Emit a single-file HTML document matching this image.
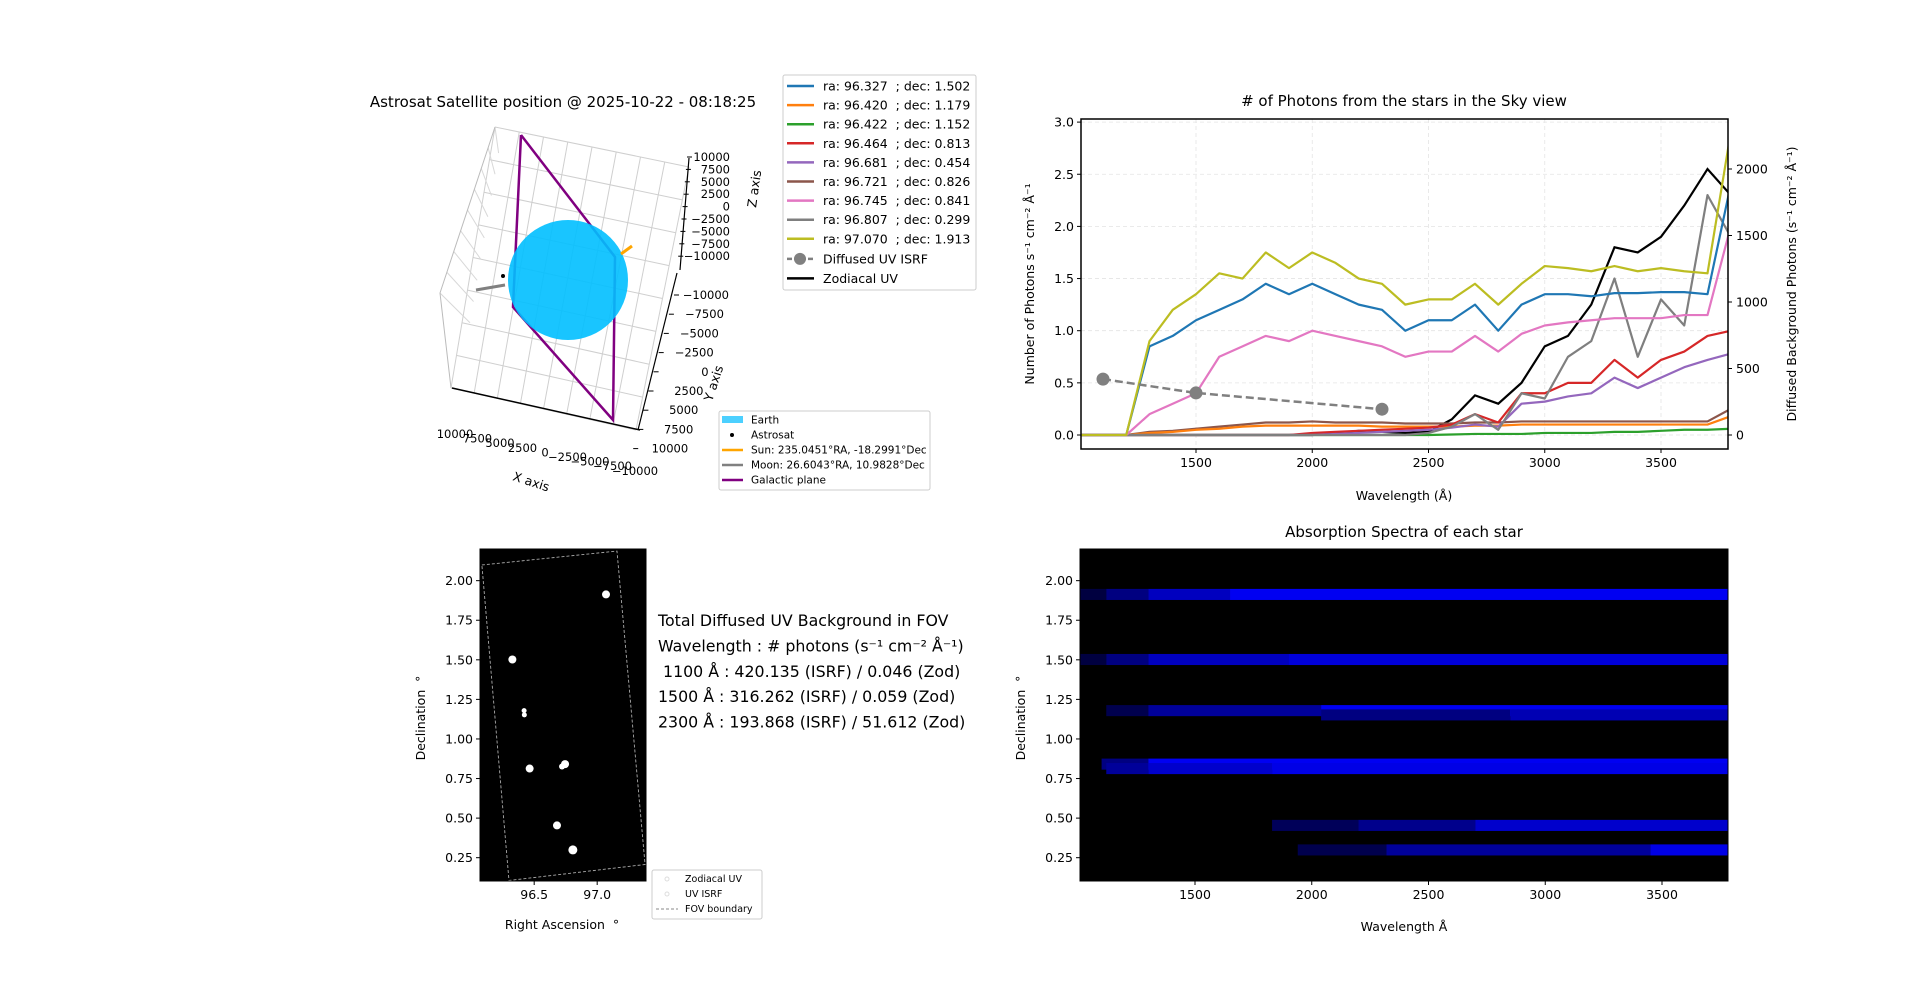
<!DOCTYPE html>
<html><head><meta charset="utf-8"><style>
html,body{margin:0;padding:0;background:#fff;}
body{width:1920px;height:990px;overflow:hidden;font-family:"Liberation Sans","DejaVu Sans",sans-serif;}
svg text{font-family:"DejaVu Sans","Liberation Sans",sans-serif;white-space:pre;}
</style></head><body>
<svg id="fig" width="1920" height="990" viewBox="0 0 1920 990" xmlns="http://www.w3.org/2000/svg">
<g id="g3d"></g>
<g id="gspec"></g>
<g id="gsky"></g>
<g id="gabs"></g>
</svg>
<script>
// ---------- Spectrum data ----------
const wl = [1000,1100,1200,1300,1400,1500,1600,1700,1800,1900,2000,2100,2200,2300,2400,2500,2600,2700,2800,2900,3000,3100,3200,3300,3400,3500,3600,3700,3800];
const sBlue   = [0,0,0,0.85,0.95,1.1,1.2,1.3,1.45,1.35,1.45,1.35,1.25,1.2,1.0,1.1,1.1,1.25,1.0,1.25,1.35,1.35,1.33,1.36,1.36,1.37,1.37,1.35,2.4];
const sOrange = [0,0,0,0.02,0.03,0.05,0.06,0.08,0.09,0.09,0.09,0.09,0.09,0.08,0.08,0.08,0.08,0.09,0.09,0.1,0.1,0.1,0.1,0.1,0.1,0.1,0.1,0.1,0.18];
const sGreen  = [0,0,0,0,0,0,0,0,0,0,0,0,0,0,0,0,0.005,0.01,0.01,0.01,0.02,0.02,0.02,0.03,0.03,0.04,0.05,0.05,0.06];
const sRed    = [0,0,0,0,0,0,0,0,0,0,0.02,0.03,0.04,0.05,0.06,0.07,0.1,0.2,0.12,0.4,0.4,0.5,0.5,0.72,0.55,0.72,0.8,0.95,1.0];
const sPurple = [0,0,0,0,0,0,0,0,0,0,0,0.01,0.02,0.03,0.04,0.05,0.07,0.1,0.08,0.3,0.32,0.37,0.4,0.55,0.45,0.55,0.65,0.72,0.78];
const sBrown  = [0,0,0,0.03,0.04,0.06,0.08,0.1,0.12,0.12,0.13,0.12,0.12,0.12,0.11,0.11,0.11,0.12,0.12,0.13,0.13,0.13,0.13,0.13,0.13,0.13,0.13,0.13,0.25];
const sPink   = [0,0,0,0.2,0.3,0.4,0.75,0.85,0.95,0.9,1.0,0.95,0.9,0.85,0.75,0.8,0.8,0.95,0.8,0.97,1.05,1.08,1.1,1.12,1.12,1.12,1.15,1.15,2.0];
const sGray   = [0,0,0,0,0,0,0,0,0,0,0,0,0,0,0,0.02,0.08,0.2,0.05,0.4,0.35,0.75,0.9,1.5,0.75,1.3,1.05,2.3,1.9];
const sOlive  = [0,0,0,0.9,1.2,1.35,1.55,1.5,1.75,1.6,1.75,1.65,1.5,1.45,1.25,1.3,1.3,1.45,1.25,1.45,1.62,1.6,1.57,1.62,1.57,1.6,1.57,1.55,2.9];
const sZod    = [0,0,0,0,0,0,0,0,0,0,0,0.02,0.04,0.03,0.02,0.03,0.15,0.38,0.3,0.5,0.85,0.95,1.25,1.8,1.75,1.9,2.2,2.55,2.3];
const isrfWl  = [1100,1500,2300];
const isrfVal = [420.135,316.262,193.868];
const leftTicks = [0,0.5,1.0,1.5,2.0,2.5,3.0];
const rightTicks = [0,500,1000,1500,2000];
const xTicks = [1500,2000,2500,3000,3500];
const starLabels = ["ra: 96.327  ; dec: 1.502","ra: 96.420  ; dec: 1.179","ra: 96.422  ; dec: 1.152","ra: 96.464  ; dec: 0.813","ra: 96.681  ; dec: 0.454","ra: 96.721  ; dec: 0.826","ra: 96.745  ; dec: 0.841","ra: 96.807  ; dec: 0.299","ra: 97.070  ; dec: 1.913"];
const starColors = ["#1f77b4","#ff7f0e","#2ca02c","#d62728","#9467bd","#8c564b","#e377c2","#7f7f7f","#bcbd22"];
// ---------- Sky data ----------
const starRa  = [96.327,96.420,96.422,96.464,96.681,96.721,96.745,96.807,97.070];
const starDec = [1.502,1.179,1.152,0.813,0.454,0.826,0.841,0.299,1.913];
const starSize = [4,2.5,2.5,4,4,3,4,4.5,4];
const fovRa  = [96.085,97.157,97.38,96.30];
const fovDec = [2.099,2.187,0.207,0.106];
const skyTicksY = [0.25,0.5,0.75,1.0,1.25,1.5,1.75,2.0];
const skyTicksX = [96.5,97.0];
// ---------- Absorption data: [dec, startWl, endWl, intensity] ----------
const absSegs = [
 [1.913,1000,1120,0.25],[1.913,1120,1300,0.5],[1.913,1300,1650,0.75],[1.913,1650,3800,0.95],
 [1.502,1000,1120,0.25],[1.502,1120,1300,0.5],[1.502,1300,1900,0.75],[1.502,1900,3800,0.85],
 [1.179,1120,1300,0.3],[1.179,1300,2040,0.6],[1.179,2040,3800,0.95],
 [1.152,2040,2850,0.5],[1.152,2850,3800,0.7],
 [0.841,1100,1300,0.5],[0.841,1300,3800,0.95],
 [0.813,1120,1300,0.6],[0.813,1300,1830,0.8],[0.813,1830,3800,0.9],
 [0.454,1830,2200,0.35],[0.454,2200,2700,0.55],[0.454,2700,3800,0.8],
 [0.299,1940,2320,0.3],[0.299,2320,3450,0.6],[0.299,3450,3800,0.9]
];
const absTicksX = [1500,2000,2500,3000,3500];

const FT=12.5, FTITLE=15, FLEG=12.5, FSMALL=10.5;
const NS="http://www.w3.org/2000/svg";
function mk(parent,tag,attrs,txt){const e=document.createElementNS(NS,tag);for(const k in attrs)e.setAttribute(k,attrs[k]);if(txt!==undefined)e.textContent=txt;parent.appendChild(e);return e;}

// ===== Spectrum chart =====
(function(){
 const g=document.getElementById('gspec');
 const L=1081,R=1728,T=119,B=449;
 const xS=v=>1196+(v-1500)*0.2325;
 const yL=v=>435-v*104.3;
 const yR=v=>435-v*0.133;
 mk(g,'text',{x:1404,y:106,'font-size':FTITLE,'text-anchor':'middle'},'# of Photons from the stars in the Sky view');
 const clip=mk(g,'clipPath',{id:'cspec'});mk(clip,'rect',{x:L,y:T,width:R-L,height:B-T});
 xTicks.forEach(t=>{const x=xS(t);
  const gl=mk(g,'line',{x1:x,x2:x,y1:T,y2:B,stroke:'#e4e4e4','stroke-dasharray':'4,3','stroke-width':0.8});
  
  mk(g,'line',{x1:x,x2:x,y1:B,y2:B+4,stroke:'#000'});
  const tl=mk(g,'text',{x:x,y:B+18,'font-size':FT,'text-anchor':'middle'},String(t));
  });
 leftTicks.forEach(t=>{const y=yL(t);
  mk(g,'line',{x1:L,x2:R,y1:y,y2:y,stroke:'#e4e4e4','stroke-dasharray':'4,3','stroke-width':0.8});
  mk(g,'line',{x1:L-4,x2:L,y1:y,y2:y,stroke:'#000'});
  const tl=mk(g,'text',{x:L-7,y:y+4.5,'font-size':FT,'text-anchor':'end'},t.toFixed(1));
  });
 rightTicks.forEach(t=>{const y=yR(t);
  mk(g,'line',{x1:R,x2:R+4,y1:y,y2:y,stroke:'#000'});
  const tl=mk(g,'text',{x:R+8,y:y+4.5,'font-size':FT},String(t));
  });
 const series=[sBlue,sOrange,sGreen,sRed,sPurple,sBrown,sPink,sGray,sOlive];
 const lines=mk(g,'g',{'clip-path':'url(#cspec)'});
 const order=[5,1,2,3,4,7,0,6,8];
 const zp=wl.map((w,i)=>xS(w)+','+yL(sZod[i])).join(' ');
 const zl=mk(lines,'polyline',{points:zp,fill:'none',stroke:'#000','stroke-width':2.2});
 
 order.forEach(k=>{const pts=wl.map((w,i)=>xS(w)+','+yL(series[k][i])).join(' ');
  const pl=mk(lines,'polyline',{points:pts,fill:'none',stroke:starColors[k],'stroke-width':2.2,'stroke-linejoin':'round'});
  });
 const ip=isrfWl.map((w,i)=>xS(w)+','+yR(isrfVal[i])).join(' ');
 const il=mk(lines,'polyline',{points:ip,fill:'none',stroke:'#808080','stroke-width':2.5,'stroke-dasharray':'8,4'});
 
 isrfWl.forEach((w,i)=>{const c=mk(lines,'circle',{cx:xS(w),cy:yR(isrfVal[i]),r:6.5,fill:'#808080'});
  });
 mk(g,'rect',{x:L,y:T,width:R-L,height:B-T,fill:'none',stroke:'#000','stroke-width':1.5});
 const xl=mk(g,'text',{x:1404,y:500,'font-size':FT,'text-anchor':'middle'},'Wavelength (Å)');
 
 const yl=mk(g,'text',{x:0,y:0,'font-size':FT,'text-anchor':'middle',transform:'translate(1034,284) rotate(-90)'},'Number of Photons s⁻¹ cm⁻² Å⁻¹');
 
 const yr=mk(g,'text',{x:0,y:0,'font-size':FT,'text-anchor':'middle',transform:'translate(1796,284) rotate(-90)'},'Diffused Background Photons (s⁻¹ cm⁻² Å⁻¹)');
 
})();

// ===== 3D plot (schematic) =====
(function(){
 const g=document.getElementById('g3d');
 mk(g,'text',{x:563,y:107,'font-size':FTITLE,'text-anchor':'middle'},'Astrosat Satellite position @ 2025-10-22 - 08:18:25');
 const lerp=(a,b,t)=>[a[0]+(b[0]-a[0])*t,a[1]+(b[1]-a[1])*t];
 const TL=[495,127],TR=[689,167],BL=[451,388],BR=[636,430],ML=[440,293];
 for(let i=0;i<=8;i++){const t=i/8;
  const a=lerp(TL,TR,t),b=lerp(BL,BR,t);mk(g,'line',{x1:a[0],y1:a[1],x2:b[0],y2:b[1],stroke:'#cfcfcf','stroke-width':1});
  const c=lerp(TL,BL,t),d=lerp(TR,BR,t);mk(g,'line',{x1:c[0],y1:c[1],x2:d[0],y2:d[1],stroke:'#cfcfcf','stroke-width':1});
  const e=lerp(TL,ML,t),f=lerp(lerp(TL,BL,0.1),lerp(TL,BL,0.75),t);mk(g,'line',{x1:e[0],y1:e[1],x2:f[0]+8,y2:f[1],stroke:'#d8d8d8','stroke-width':1});}
 mk(g,'polyline',{points:'495,127 440,293 451,388',fill:'none',stroke:'#bbb','stroke-width':1});
 mk(g,'line',{x1:689,y1:158,x2:680,y2:270,stroke:'#000','stroke-width':1.2});
 mk(g,'line',{x1:677,y1:273,x2:638,y2:430,stroke:'#000','stroke-width':1.2});
 mk(g,'line',{x1:452,y1:388,x2:640,y2:430,stroke:'#000','stroke-width':1.5});
 const zl=["10000","7500","5000","2500","0","−2500","−5000","−7500","−10000"];
 zl.forEach((s,i)=>{const y=157+i*12.4;mk(g,'text',{x:730,y:y+4,'font-size':11.5,'text-anchor':'end'},s);mk(g,'line',{x1:687-i*1.1,x2:692-i*1.1,y1:y,y2:y,stroke:'#000'});});
 const yl=["−10000","−7500","−5000","−2500","0","2500","5000","7500","10000"];
 yl.forEach((s,i)=>{const y=295+i*19.2;const x=705-i*5.1;mk(g,'text',{x:x+24,y:y+4,'font-size':11.5,'text-anchor':'end'},s);mk(g,'line',{x1:x-31,x2:x-26,y1:y,y2:y,stroke:'#000'});});
 const xl=["10000","7500","5000","2500","0","−2500","−5000","−7500","−10000"];
 xl.forEach((s,i)=>{const x=455+i*22.5,y=435+i*4.6;mk(g,'text',{x:x,y:y+3,'font-size':11.5,'text-anchor':'middle'},s);});
 mk(g,'text',{x:0,y:0,'font-size':12.5,transform:'translate(512,480) rotate(18)'},'X axis');
 mk(g,'text',{x:0,y:0,'font-size':12.5,transform:'translate(712,402) rotate(-72)'},'Y axis');
 mk(g,'text',{x:0,y:0,'font-size':12.5,transform:'translate(756,208) rotate(-82)'},'Z axis');
 const gp=mk(g,'polyline',{points:'521,135 615,257 613,420 513,307 521,135',fill:'none',stroke:'#800080','stroke-width':2.5});
 
 const earth=mk(g,'ellipse',{cx:568,cy:280,rx:60,ry:60,fill:'#00bfff','fill-opacity':0.9});
 
 mk(g,'line',{x1:621,y1:254,x2:632,y2:246,stroke:'#ffa500','stroke-width':3});
 mk(g,'line',{x1:476,y1:290,x2:505,y2:285,stroke:'#808080','stroke-width':3});
 const sat=mk(g,'circle',{cx:503,cy:276,r:2,fill:'#000'});
 
 // star legend
 const lg=mk(g,'g',{});
 mk(lg,'rect',{x:783,y:75,width:193,height:215,fill:'#fff',stroke:'#ccc',rx:2});
 starLabels.forEach((s,i)=>{const y=86+i*19.1;mk(lg,'line',{x1:787,x2:814,y1:y,y2:y,stroke:starColors[i],'stroke-width':2.5});mk(lg,'text',{x:823,y:y+4.5,'font-size':FLEG},s);});
 let y=86+9*19.1+1;mk(lg,'line',{x1:787,x2:814,y1:y,y2:y,stroke:'#808080','stroke-width':2.5,'stroke-dasharray':'5,2'});mk(lg,'circle',{cx:800,cy:y,r:6,fill:'#808080'});mk(lg,'text',{x:823,y:y+4.5,'font-size':FLEG},'Diffused UV ISRF');
 y+=19.5;mk(lg,'line',{x1:787,x2:814,y1:y,y2:y,stroke:'#000','stroke-width':2.5});mk(lg,'text',{x:823,y:y+4.5,'font-size':FLEG},'Zodiacal UV');
 // object legend
 const lg2=mk(g,'g',{});
 mk(lg2,'rect',{x:719,y:411,width:211,height:79,fill:'#fff',stroke:'#ccc',rx:2});
 const items=[['Earth','#4cd0ff','patch'],['Astrosat','#000','dot'],['Sun: 235.0451°RA, -18.2991°Dec','#ffa500','line'],['Moon: 26.6043°RA, 10.9828°Dec','#808080','line'],['Galactic plane','#800080','line']];
 items.forEach((it,i)=>{const yy=420+i*15;
  if(it[2]==='patch')mk(lg2,'rect',{x:722,y:yy-4,width:21,height:7,fill:it[1]});
  else if(it[2]==='dot')mk(lg2,'circle',{cx:732,cy:yy,r:2,fill:'#000'});
  else mk(lg2,'line',{x1:722,x2:743,y1:yy,y2:yy,stroke:it[1],'stroke-width':2.5});
  mk(lg2,'text',{x:751,y:yy+3.5,'font-size':FSMALL},it[0]);});
})();

// ===== Sky view =====
(function(){
 const g=document.getElementById('gsky');
 const L=480,R=646,T=549,B=881;
 const xS=v=>L+(v-96.07)*126;
 const yS=v=>T+(2.2-v)*158.3;
 mk(g,'rect',{x:L,y:T,width:R-L,height:B-T,fill:'#000'});
 const clip=mk(g,'clipPath',{id:'csky'});mk(clip,'rect',{x:L,y:T,width:R-L,height:B-T});
 const pts=fovRa.map((r,i)=>xS(r)+','+yS(fovDec[i])).join(' ');
 const fov=mk(g,'polygon',{points:pts,fill:'none',stroke:'#aaa','stroke-width':0.9,'stroke-dasharray':'3,2','clip-path':'url(#csky)'});
 
 starRa.forEach((r,i)=>{const c=mk(g,'circle',{cx:xS(r),cy:yS(starDec[i]),r:starSize[i],fill:'#fff','clip-path':'url(#csky)'});
  });
 mk(g,'rect',{x:L,y:T,width:R-L,height:B-T,fill:'none',stroke:'#000','stroke-width':1});
 skyTicksY.forEach(t=>{const y=yS(t);mk(g,'line',{x1:L-4,x2:L,y1:y,y2:y,stroke:'#000'});
  const tl=mk(g,'text',{x:L-7,y:y+4.5,'font-size':FT,'text-anchor':'end'},t.toFixed(2));
  });
 skyTicksX.forEach(t=>{const x=xS(t);mk(g,'line',{x1:x,x2:x,y1:B,y2:B+4,stroke:'#000'});
  const tl=mk(g,'text',{x:x,y:B+18,'font-size':FT,'text-anchor':'middle'},t.toFixed(1));
  });
 mk(g,'text',{x:562,y:929,'font-size':FT,'text-anchor':'middle'},'Right Ascension  °');
 mk(g,'text',{x:0,y:0,'font-size':FT,'text-anchor':'middle',transform:'translate(425,718) rotate(-90)'},'Declination  °');
 const tx=mk(g,'g',{});
 ['Total Diffused UV Background in FOV','Wavelength : # photons (s⁻¹ cm⁻² Å⁻¹)',' 1100 Å : 420.135 (ISRF) / 0.046 (Zod)','1500 Å : 316.262 (ISRF) / 0.059 (Zod)','2300 Å : 193.868 (ISRF) / 51.612 (Zod)'].forEach((s,i)=>{
  mk(tx,'text',{x:658,y:626+i*25.4,'font-size':15.8},s);});
 const lg=mk(g,'g',{});
 mk(lg,'rect',{x:652,y:870,width:110,height:49,fill:'#fff',stroke:'#ccc',rx:2});
 mk(lg,'circle',{cx:667,cy:879,r:2,fill:'none',stroke:'#ddd'});mk(lg,'text',{x:685,y:882,'font-size':9.5},'Zodiacal UV');
 mk(lg,'circle',{cx:667,cy:894,r:2,fill:'none',stroke:'#ddd'});mk(lg,'text',{x:685,y:897,'font-size':9.5},'UV ISRF');
 mk(lg,'line',{x1:656,x2:678,y1:909,y2:909,stroke:'#888','stroke-dasharray':'3,2'});mk(lg,'text',{x:685,y:912,'font-size':9.5},'FOV boundary');
})();

// ===== Absorption spectra =====
(function(){
 const g=document.getElementById('gabs');
 const L=1080,R=1728,T=549,B=881;
 const xS=v=>1195+(v-1500)*0.2335;
 const yS=v=>T+(2.2-v)*158.3;
 mk(g,'text',{x:1404,y:537,'font-size':FTITLE,'text-anchor':'middle'},'Absorption Spectra of each star');
 mk(g,'rect',{x:L,y:T,width:R-L,height:B-T,fill:'#000'});
 const clip=mk(g,'clipPath',{id:'cabs'});mk(clip,'rect',{x:L,y:T,width:R-L,height:B-T});
 const half=0.035;
 absSegs.forEach(s=>{const x1=xS(s[1]),x2=xS(s[2]);const b=Math.round(255*s[3]);
  const r=mk(g,'rect',{x:x1,y:yS(s[0]+half),width:x2-x1,height:yS(s[0]-half)-yS(s[0]+half),fill:'rgb(0,0,'+b+')','clip-path':'url(#cabs)'});
  });
 mk(g,'rect',{x:L,y:T,width:R-L,height:B-T,fill:'none',stroke:'#000','stroke-width':1});
 skyTicksY.forEach(t=>{const y=yS(t);mk(g,'line',{x1:L-4,x2:L,y1:y,y2:y,stroke:'#000'});
  mk(g,'text',{x:L-7,y:y+4.5,'font-size':FT,'text-anchor':'end'},t.toFixed(2));});
 absTicksX.forEach(t=>{const x=xS(t);mk(g,'line',{x1:x,x2:x,y1:B,y2:B+4,stroke:'#000'});
  mk(g,'text',{x:x,y:B+18,'font-size':FT,'text-anchor':'middle'},String(t));});
 mk(g,'text',{x:1404,y:931,'font-size':FT,'text-anchor':'middle'},'Wavelength Å');
 mk(g,'text',{x:0,y:0,'font-size':FT,'text-anchor':'middle',transform:'translate(1025,718) rotate(-90)'},'Declination  °');
})();
</script>
</body></html>
